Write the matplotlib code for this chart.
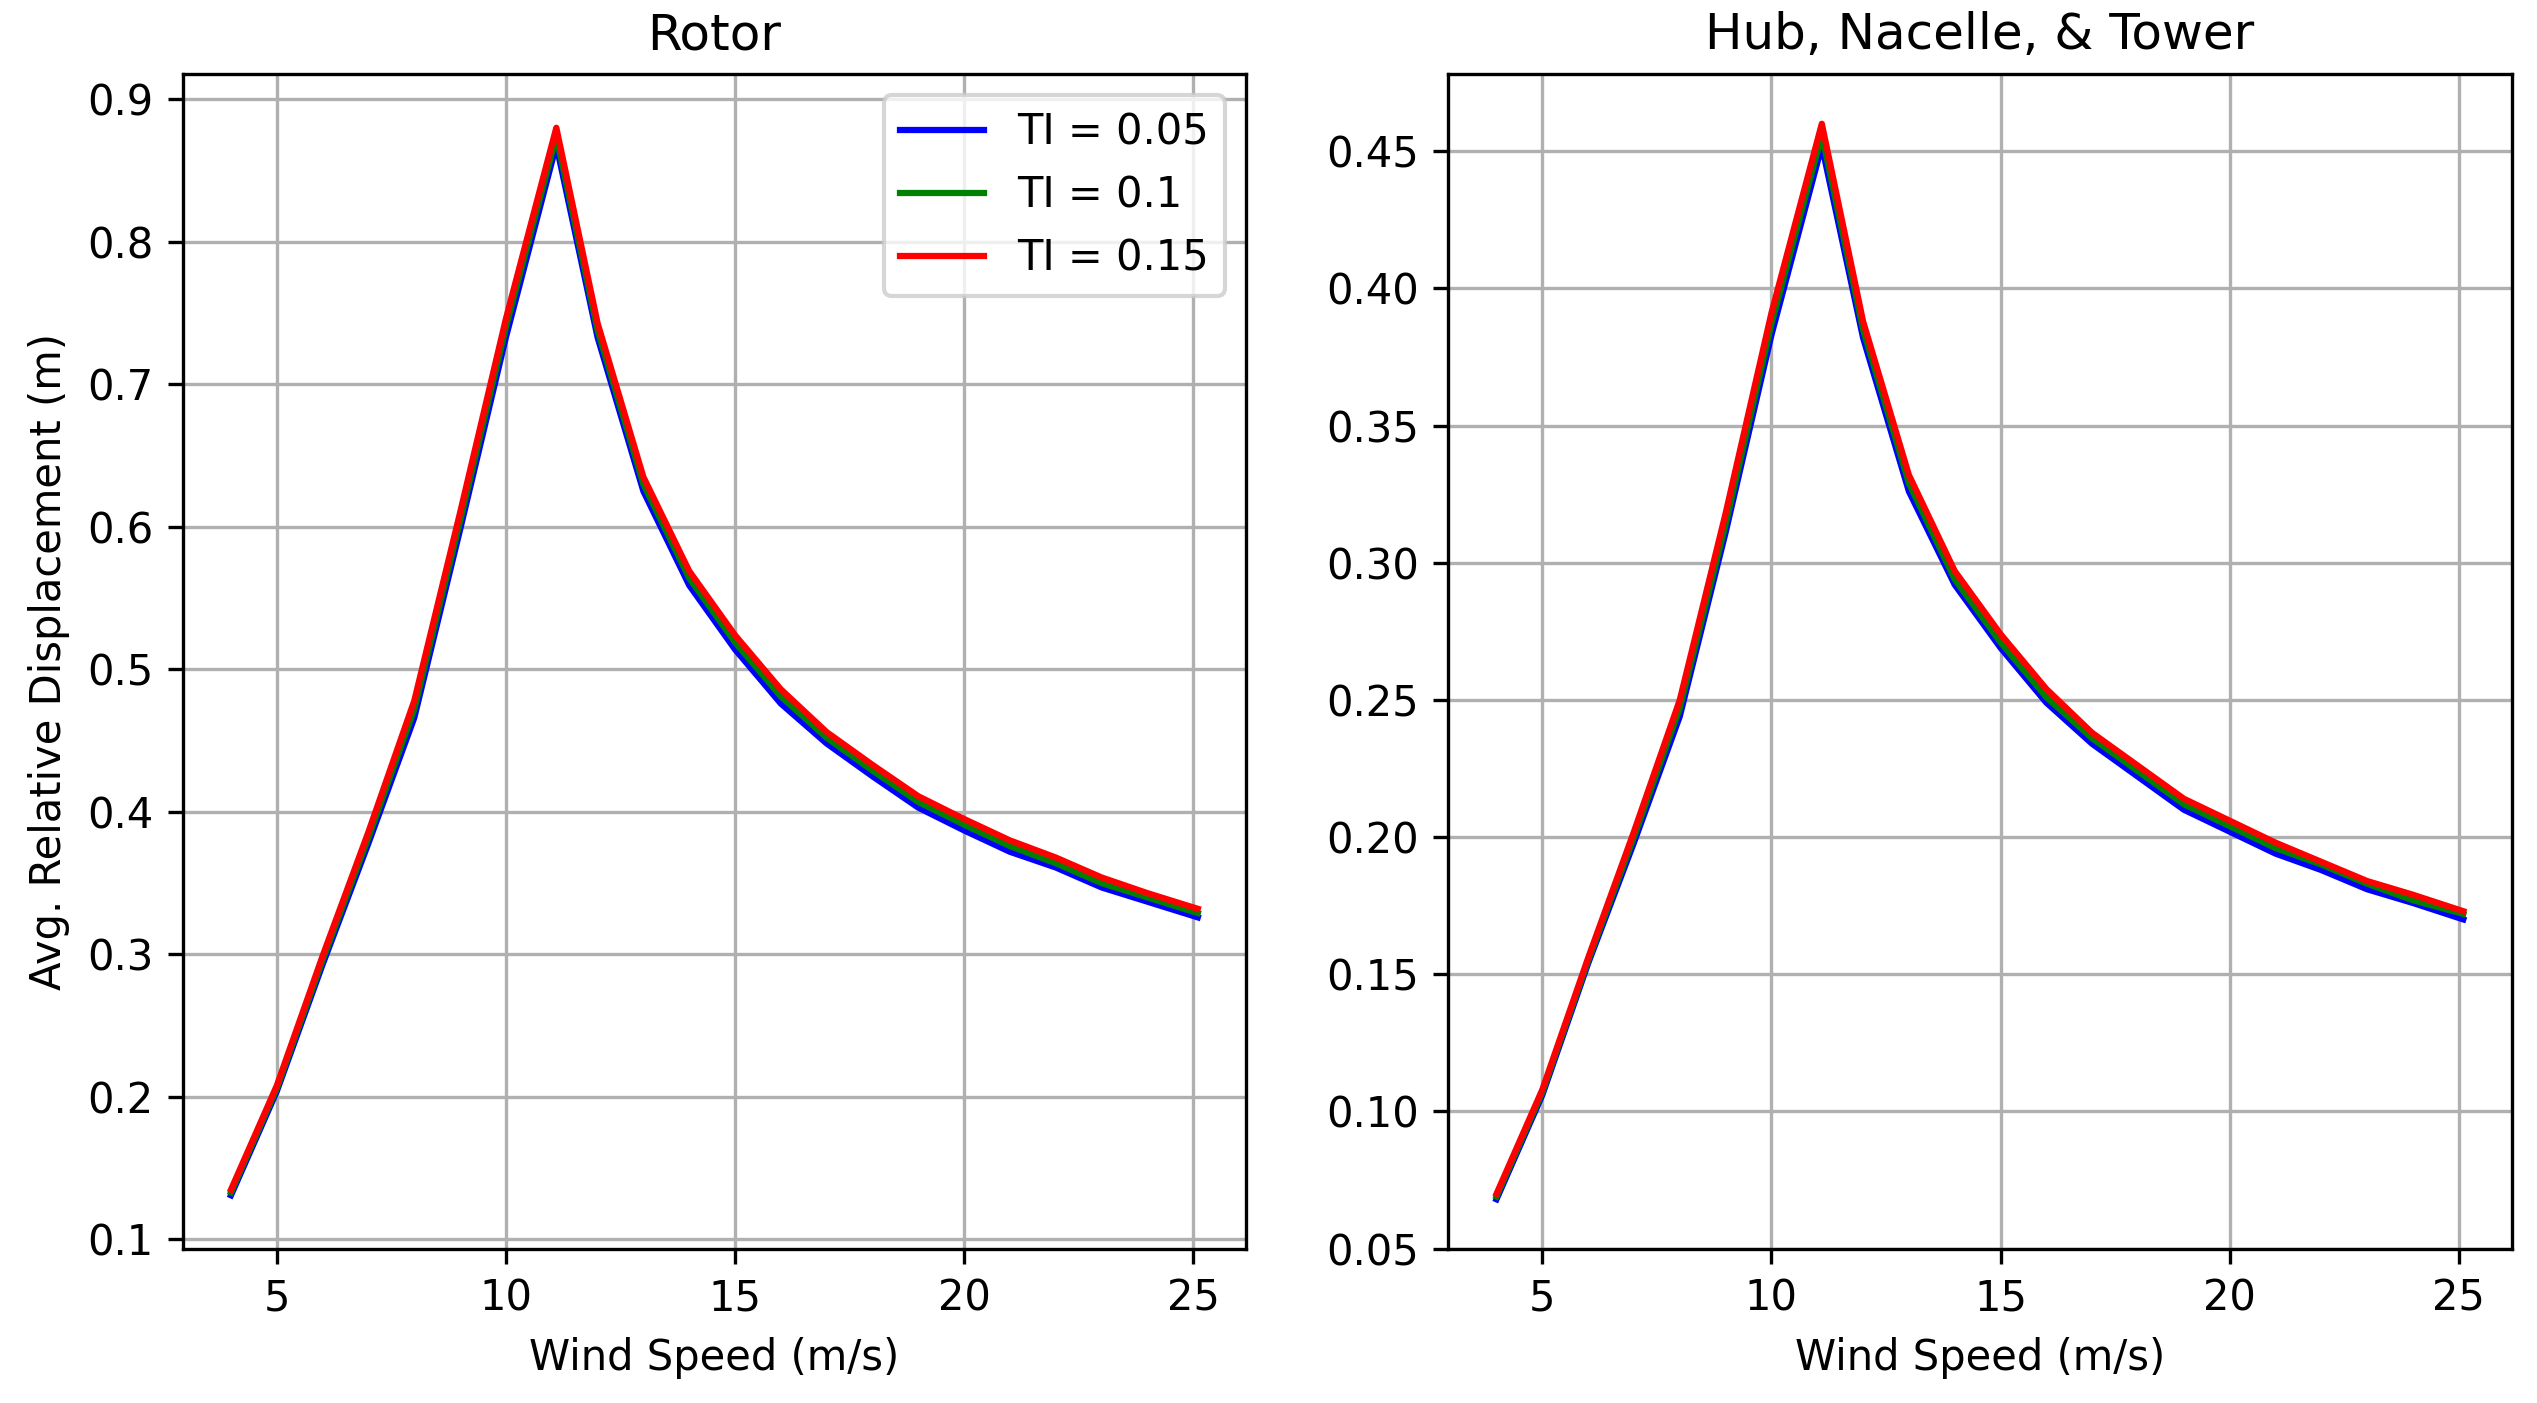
import matplotlib
matplotlib.use('Agg')
import matplotlib.pyplot as plt

wind_speed = [4, 5, 6, 7, 8, 9, 10, 11.1, 12, 13, 14, 15, 16, 17, 18, 19, 20, 21, 22, 23, 24, 25.1]

rotor_005 = [0.131, 0.204, 0.293, 0.378, 0.466, 0.598, 0.733, 0.868, 0.733, 0.625, 0.559, 0.514, 0.476, 0.448, 0.425, 0.403, 0.387, 0.372, 0.361, 0.347, 0.337, 0.326]
rotor_01 = [0.133, 0.206, 0.296, 0.382, 0.472, 0.604, 0.740, 0.874, 0.738, 0.630, 0.564, 0.519, 0.481, 0.452, 0.429, 0.407, 0.391, 0.376, 0.364, 0.350, 0.340, 0.329]
rotor_015 = [0.135, 0.208, 0.299, 0.386, 0.478, 0.610, 0.746, 0.880, 0.743, 0.635, 0.569, 0.524, 0.486, 0.456, 0.433, 0.411, 0.395, 0.380, 0.368, 0.354, 0.343, 0.332]

hub_005 = [0.068, 0.106, 0.154, 0.198, 0.244, 0.311, 0.383, 0.452, 0.382, 0.326, 0.292, 0.269, 0.249, 0.234, 0.222, 0.210, 0.202, 0.194, 0.188, 0.181, 0.176, 0.170]
hub_01 = [0.069, 0.107, 0.155, 0.200, 0.247, 0.314, 0.387, 0.456, 0.385, 0.329, 0.294, 0.271, 0.251, 0.236, 0.224, 0.212, 0.204, 0.196, 0.190, 0.183, 0.177, 0.172]
hub_015 = [0.070, 0.108, 0.156, 0.202, 0.250, 0.318, 0.391, 0.460, 0.388, 0.332, 0.297, 0.274, 0.254, 0.238, 0.226, 0.214, 0.206, 0.198, 0.191, 0.184, 0.179, 0.173]

labels = ['TI = 0.05', 'TI = 0.1', 'TI = 0.15']
colors = ['blue', 'green', 'red']

fig, (ax1, ax2) = plt.subplots(1, 2, figsize=(2537 / 300, 1403 / 300), dpi=300)
fig.subplots_adjust(left=0.072, right=0.99, bottom=0.11, top=0.947, wspace=0.19)

for ys, lab, c in zip([rotor_005, rotor_01, rotor_015], labels, colors):
    ax1.plot(wind_speed, ys, color=c, label=lab, lw=1.5)
for ys, lab, c in zip([hub_005, hub_01, hub_015], labels, colors):
    ax2.plot(wind_speed, ys, color=c, label=lab, lw=1.5)

ax1.set_title('Rotor')
ax1.set_ylabel('Avg. Relative Displacement (m)')
ax1.set_xlabel('Wind Speed (m/s)')
ax1.legend(loc='upper right')
ax1.grid(True)

ax2.set_title('Hub, Nacelle, & Tower')
ax2.set_xlabel('Wind Speed (m/s)')
ax2.set_ylim(0.05, 0.478)
ax2.grid(True)

fig.savefig('out.png', dpi=300)
